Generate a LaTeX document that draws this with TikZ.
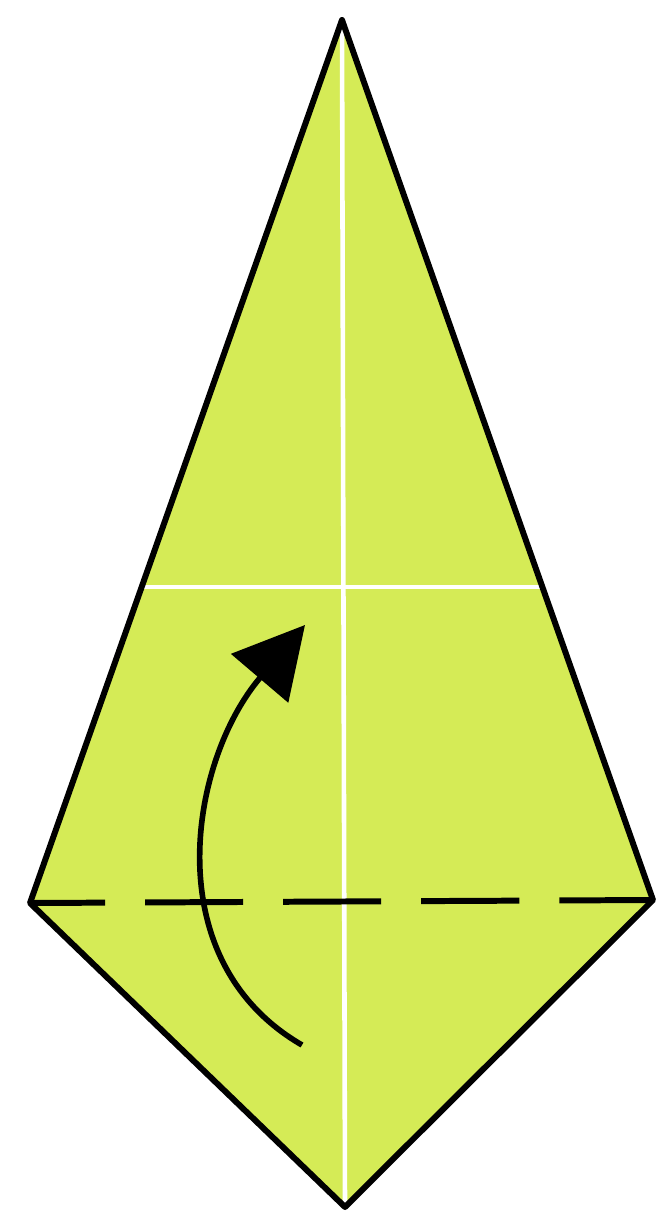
\documentclass[tikz,border=0pt]{standalone}
\usetikzlibrary{arrows.meta}
\definecolor{paper}{RGB}{213,235,86}
\tikzset{
  outline/.style={draw=black, line width=1.7pt, line join=round},
  crease/.style={draw=white, line width=1.3pt},
  foldline/.style={draw=black, line width=1.7pt, dash pattern=on 0.98cm off 0.40cm, dash phase=0.23cm},
  foldarrow/.style={draw=black, line width=1.6pt, -{Triangle[length=0.70cm, width=0.74cm]}}
}
\begin{document}
\begin{tikzpicture}[x=0.01cm, y=-0.01cm]
\useasboundingbox (0,0) rectangle (656,1222);
\coordinate (T) at (342,20);
\coordinate (L) at (30,903);
\coordinate (R) at (653,900);
\coordinate (B) at (345,1207);
\coordinate (HL) at (139,587);
\coordinate (HR) at (546,587);
\coordinate (A0) at (302,1045);
\coordinate (A1) at (305,625);
\fill[paper] (T) -- (R) -- (B) -- (L) -- cycle;
\draw[crease] (T) -- (B);
\draw[crease] (HL) -- (HR);
\draw[foldline] (L) -- (R);
\draw[outline] (T) -- (R) -- (B) -- (L) -- cycle;
\draw[foldarrow] (A0) .. controls (155,960) and (190,760) .. (A1);
\end{tikzpicture}
\end{document}
